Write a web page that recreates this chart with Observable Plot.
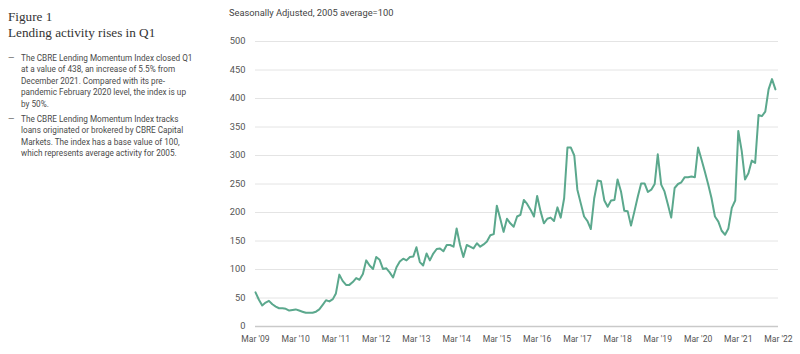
<!DOCTYPE html>
<html>
<head>
<meta charset="utf-8">
<script src="https://cdn.jsdelivr.net/npm/d3@7"></script>
<script src="https://cdn.jsdelivr.net/npm/@observablehq/plot@0.6"></script>
<style>
  html, body { margin: 0; padding: 0; background: #fff; }
  body { width: 800px; height: 354px; position: relative; overflow: hidden; font-family: Roboto, "Noto Sans", sans-serif; }
  .fig { position: absolute; left: 8px; font-family: "Liberation Serif", "DejaVu Serif", serif; font-size: 13.2px; color: #333; white-space: nowrap; line-height: 16px; }
  .bul { position: absolute; left: 8px; font-size: 8.2px; line-height: 11.4px; color: #4a4a4a; white-space: nowrap; }
  .bul .dash { position: absolute; left: 0; top: 0; color: #666; }
  .bul .txt { position: absolute; left: 13px; top: 0; }
  #sub { position: absolute; left: 229px; top: 7px; font-size: 9.3px; color: #444; white-space: nowrap; }
  #chart { position: absolute; left: 220px; top: 0; }
</style>
</head>
<body>
<div class="fig" style="top:9px">Figure 1</div>
<div class="fig" style="top:25px">Lending activity rises in Q1</div>
<div class="bul" style="top:53px"><span class="dash">—</span><span class="txt">The CBRE Lending Momentum Index closed Q1<br>at a value of 438, an increase of 5.5% from<br>December 2021. Compared with its pre-<br>pandemic February 2020 level, the index is up<br>by 50%.</span></div>
<div class="bul" style="top:114px"><span class="dash">—</span><span class="txt">The CBRE Lending Momentum Index tracks<br>loans originated or brokered by CBRE Capital<br>Markets. The index has a base value of 100,<br>which represents average activity for 2005.</span></div>
<div id="sub">Seasonally Adjusted, 2005 average=100</div>
<div id="chart"></div>
<script>
// Monthly index values, starting March 2009
const startYear = 2009;
const startMonth = 3; // March
const indexValues = [
  60, 47, 37, 42, 45, 39, 35, 32, 32, 31, 28, 29,
  30, 28, 26, 24, 24, 24, 26, 30, 38, 46, 44, 48,
  58, 91, 80, 73, 73, 78, 85, 82, 92, 116, 107, 101,
  122, 117, 101, 102, 95, 86, 104, 114, 119, 116, 122, 123,
  139, 113, 107, 128, 116, 128, 136, 137, 132, 143, 143, 140,
  172, 143, 122, 143, 140, 137, 146, 140, 144, 149, 160, 162,
  212, 189, 166, 189, 181, 175, 193, 196, 222, 215, 205, 193,
  229, 202, 181, 189, 191, 185, 209, 191, 225, 314, 314, 300,
  240, 216, 193, 185, 171, 225, 256, 255, 221, 210, 221, 222,
  258, 237, 203, 202, 177, 202, 228, 251, 251, 236, 240, 250,
  302, 249, 237, 214, 191, 243, 250, 253, 262, 262, 263, 262,
  314, 293, 272, 249, 225, 193, 184, 168, 161, 172, 208, 221,
  343, 308, 258, 269, 291, 287, 371, 369, 377, 416, 434, 416
];
const yTicks = [0, 50, 100, 150, 200, 250, 300, 350, 400, 450, 500];
const xTickYears = [2009, 2010, 2011, 2012, 2013, 2014, 2015, 2016, 2017, 2018, 2019, 2020, 2021, 2022];
const xTickLabels = ["Mar '09", "Mar '10", "Mar '11", "Mar '12", "Mar '13", "Mar '14", "Mar '15", "Mar '16", "Mar '17", "Mar '18", "Mar '19", "Mar '20", "Mar '21", "Mar '22"];

const data = indexValues.map((v, i) => ({
  date: new Date(Date.UTC(startYear, startMonth - 1 + i, 1)),
  value: v
}));
const xTickDates = xTickYears.map(y => new Date(Date.UTC(y, startMonth - 1, 1)));
const labelByTime = new Map(xTickDates.map((d, i) => [+d, xTickLabels[i]]));

const chart = Plot.plot({
  width: 580,
  height: 354,
  marginLeft: 35,
  marginRight: 22,
  marginTop: 41,
  marginBottom: 28,
  style: { fontFamily: "Roboto, 'Noto Sans', sans-serif", fontSize: "9px", color: "#555", background: "transparent" },
  x: { type: "utc", domain: [xTickDates[0], xTickDates[xTickDates.length - 1]] },
  y: { domain: [0, 500] },
  marks: [
    Plot.ruleY(yTicks.filter(d => d > 0), { stroke: "#e4e4e4", strokeWidth: 1 }),
    Plot.ruleY([0], { stroke: "#c9c9c9", strokeWidth: 1.6 }),
    Plot.axisY({ ticks: yTicks, tickSize: 0, tickPadding: 10, label: null, fontSize: 9.3 }),
    Plot.axisX({ ticks: xTickDates, tickSize: 0, tickPadding: 9, label: null, fontSize: 8.6, tickFormat: d => labelByTime.get(+d) }),
    Plot.line(data, { x: "date", y: "value", stroke: "#5ba88d", strokeWidth: 2, strokeLinejoin: "round" })
  ]
});
document.getElementById("chart").appendChild(chart);
</script>
</body>
</html>
